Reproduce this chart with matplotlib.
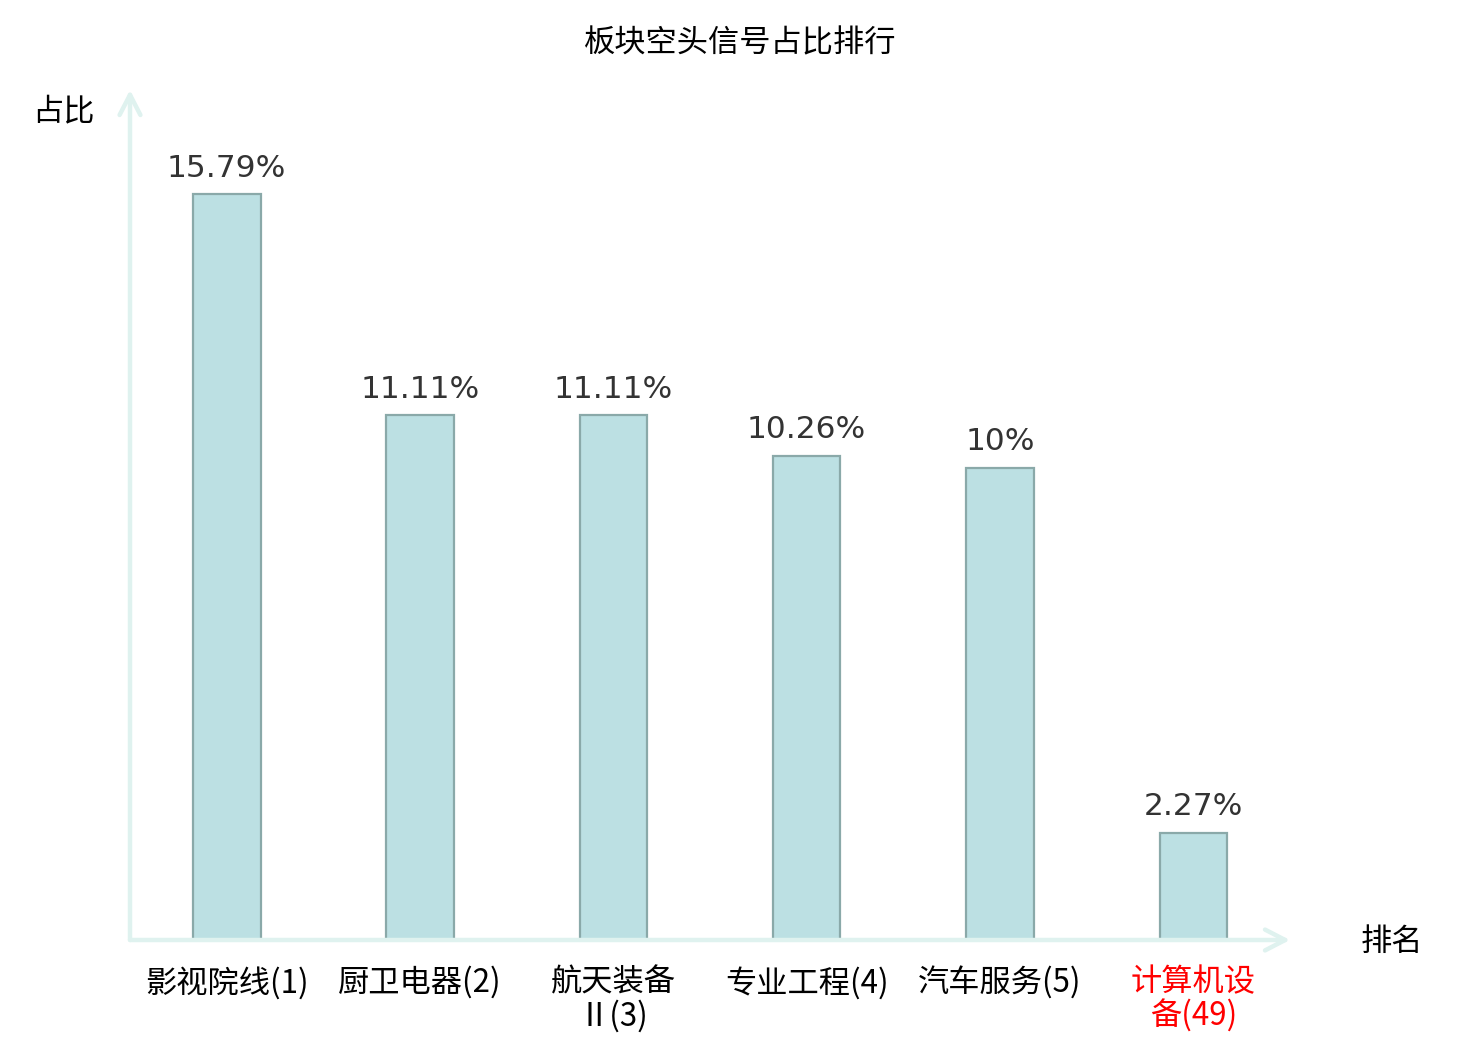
import matplotlib
matplotlib.use("Agg")
import matplotlib.pyplot as plt

plt.rcParams['font.family'] = ['Noto Sans CJK SC', 'DejaVu Sans']

categories = ["影视院线(1)", "厨卫电器(2)", "航天装备\nⅡ(3)", "专业工程(4)", "汽车服务(5)", "计算机设\n备(49)"]
values = [15.79, 11.11, 11.11, 10.26, 10.0, 2.27]
value_labels = ["15.79%", "11.11%", "11.11%", "10.26%", "10%", "2.27%"]
label_colors = ["#000000", "#000000", "#000000", "#000000", "#000000", "#ff0000"]

W, H = 1480, 1040
fig = plt.figure(figsize=(W / 100, H / 100), dpi=100)
ax = fig.add_axes([130 / W, (H - 940) / H, 1160 / W, 850 / H])
ax.set_xlim(-0.5, len(categories) - 0.5)
ax.set_ylim(0, 18)

x = list(range(len(categories)))
ax.bar(x, values, width=0.35, color="#bce0e3", edgecolor="#8aa9a9", linewidth=1.6, zorder=3)

for xi, v, lab in zip(x, values, value_labels):
    ax.annotate(lab, (xi, v), xytext=(0, 12.5), textcoords="offset points",
                ha="center", va="baseline", fontsize=22.5, color="#333333",
                family="DejaVu Sans")

for s in ax.spines.values():
    s.set_visible(False)
ax.set_yticks([])
ax.set_xticks(x)
ax.set_xticklabels(categories, fontsize=22.5, linespacing=1.05)
for t, c in zip(ax.get_xticklabels(), label_colors):
    t.set_color(c)
ax.tick_params(axis="x", length=0, pad=19)

axis_color = "#dff2ef"
arrow_style = "->,head_length=1.45,head_width=0.75"
ax.annotate("", xy=(1, 0), xytext=(0, 0), xycoords="axes fraction",
            arrowprops=dict(arrowstyle=arrow_style, color=axis_color, lw=3.2,
                            shrinkA=0, shrinkB=0), annotation_clip=False)
ax.annotate("", xy=(0, 1), xytext=(0, 0), xycoords="axes fraction",
            arrowprops=dict(arrowstyle=arrow_style, color=axis_color, lw=3.2,
                            shrinkA=0, shrinkB=0), annotation_clip=False)

fig.text(740 / W, 1 - 43 / H, "板块空头信号占比排行", ha="center", va="center", fontsize=22.5, color="#000000")
fig.text(63 / W, 1 - 111 / H, "占比", ha="center", va="center", fontsize=22.5, color="#000000")
fig.text(1392 / W, 1 - 942 / H, "排名", ha="center", va="center", fontsize=22.5, color="#000000")

fig.savefig("out.png", dpi=100)
